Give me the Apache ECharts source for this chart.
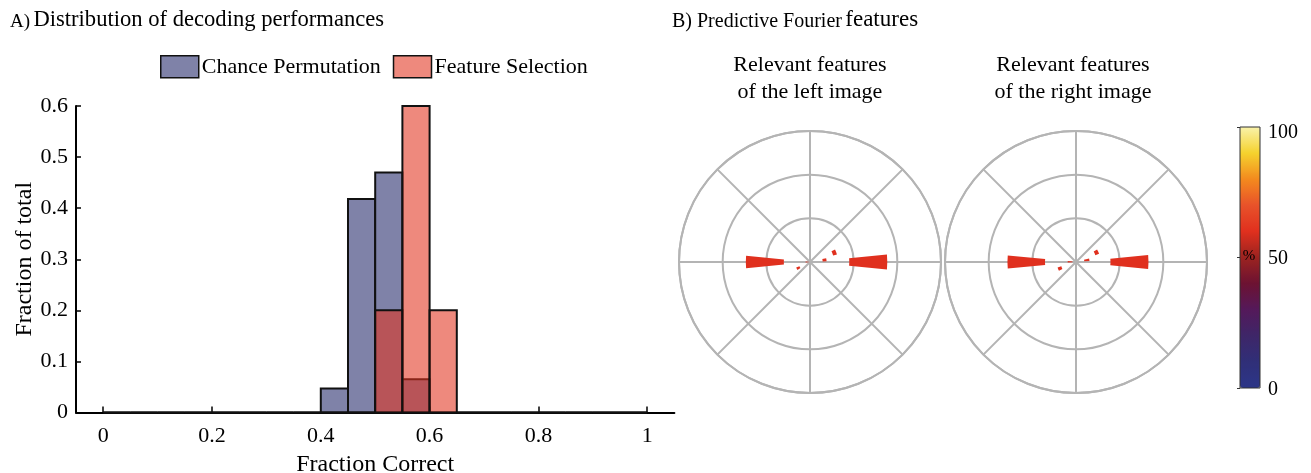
<!DOCTYPE html>
<html>
<head>
<meta charset="utf-8">
<script src="https://cdn.jsdelivr.net/npm/echarts@6/dist/echarts.min.js"></script>
<style>
html,body{margin:0;padding:0;background:#fff;}
#chart{width:1311px;height:473px;}
</style>
</head>
<body>
<div id="chart"></div>
<script>
// ---------- Data ----------
const binLeft  = [0, 0.05, 0.1, 0.15, 0.2, 0.25, 0.3, 0.35, 0.4, 0.45, 0.5, 0.55, 0.6, 0.65, 0.7, 0.75, 0.8, 0.85, 0.9, 0.95];
const binRight = [0.05, 0.1, 0.15, 0.2, 0.25, 0.3, 0.35, 0.4, 0.45, 0.5, 0.55, 0.6, 0.65, 0.7, 0.75, 0.8, 0.85, 0.9, 0.95, 1];
const chancePermutation = [0, 0, 0, 0, 0, 0, 0, 0, 0.047, 0.418, 0.47, 0.065, 0, 0, 0, 0, 0, 0, 0, 0];
const featureSelection  = [0, 0, 0, 0, 0, 0, 0, 0, 0, 0, 0.2, 0.6, 0.2, 0, 0, 0, 0, 0, 0, 0];
const xTickValues = [0, 0.2, 0.4, 0.6, 0.8, 1];

// Polar features: angle (deg), inner radius, outer radius, percent
const leftAngles = [0, 180, 180, 8, 21, 207];
const leftInner  = [0.90, 0.60, 0.00, 0.29, 0.55, 0.26];
const leftOuter  = [1.77, 1.47, 0.10, 0.38, 0.64, 0.34];
const leftPct    = [60, 60, 60, 60, 60, 60];

const rightAngles = [0, 180, 178, 10, 25, 202];
const rightInner  = [0.79, 0.71, 0.08, 0.19, 0.47, 0.35];
const rightOuter  = [1.66, 1.57, 0.19, 0.31, 0.56, 0.44];
const rightPct    = [60, 60, 60, 60, 60, 60];

const colorbarTicks = [0, 50, 100];

// ---------- Build ----------
const FONT = '"Liberation Serif", "DejaVu Serif", serif';
const histChance = binLeft.map((l, i) => [l, binRight[i], chancePermutation[i]]);
const histFeature = binLeft.map((l, i) => [l, binRight[i], featureSelection[i]]);
const polarLeft = leftAngles.map((a, i) => [a, leftInner[i], leftOuter[i], leftPct[i]]);
const polarRight = rightAngles.map((a, i) => [a, rightInner[i], rightOuter[i], rightPct[i]]);

const WEDGE_HALF = 5.5;
const GRID_GREY = '#b4b4b4';

function renderHist(params, api) {
  const p0 = api.coord([api.value(0), 0]);
  const p1 = api.coord([api.value(1), api.value(2)]);
  return {
    type: 'rect',
    shape: { x: p0[0], y: p1[1], width: p1[0] - p0[0], height: p0[1] - p1[1] },
    style: { fill: api.visual('color'), stroke: '#111', lineWidth: 2 }
  };
}

function renderWedge(params, api) {
  const a = api.value(0);
  const p0 = api.coord([api.value(1), a - WEDGE_HALF]);
  const p1 = api.coord([api.value(2), a + WEDGE_HALF]);
  const cs = params.coordSys;
  const s0 = -p0[3], s1 = -p1[3];
  return {
    type: 'sector',
    shape: { cx: cs.cx, cy: cs.cy, r0: p0[2], r: p1[2],
             startAngle: Math.min(s0, s1), endAngle: Math.max(s0, s1), clockwise: true },
    style: { fill: api.visual('color') }
  };
}

function polarAngle(idx) {
  return {
    polarIndex: idx, type: 'value', min: 0, max: 360, interval: 45,
    startAngle: 0, clockwise: false,
    axisLine: { show: true, lineStyle: { color: GRID_GREY, width: 2 } },
    axisTick: { show: false }, axisLabel: { show: false },
    splitLine: { show: true, lineStyle: { color: GRID_GREY, width: 2 } }
  };
}
function polarRadius(idx) {
  return {
    polarIndex: idx, type: 'value', min: 0, max: 3, interval: 1,
    axisLine: { show: false }, axisTick: { show: false }, axisLabel: { show: false },
    splitLine: { show: true, lineStyle: { color: GRID_GREY, width: 2 } }
  };
}

const cmap = ['#2c3688', '#302f78', '#3e2668', '#54195a', '#6c1232', '#9c2320',
              '#e0301e', '#e8522a', '#f38a1e', '#f5d22e', '#f9f2aa'];

const option = {
  backgroundColor: '#fff',
  animation: false,
  textStyle: { fontFamily: FONT },
  graphic: [
    { type: 'text', x: 10, y: 20, style: {
        text: '{a|A)} {b|Distribution of decoding performances}',
        verticalAlign: 'middle', fill: '#000',
        rich: { a: { fontSize: 19, fontFamily: FONT, verticalAlign: 'bottom' },
                b: { fontSize: 22.6, fontFamily: FONT, verticalAlign: 'bottom' } } } },
    { type: 'text', x: 672, y: 20, style: {
        text: '{a|B) Predictive Fourier} {b|features}',
        verticalAlign: 'middle', fill: '#000',
        rich: { a: { fontSize: 20, fontFamily: FONT, verticalAlign: 'bottom' },
                b: { fontSize: 23, fontFamily: FONT, verticalAlign: 'bottom' } } } },
    { type: 'text', x: 810, y: 52, style: {
        text: 'Relevant features\nof the left image', align: 'center', verticalAlign: 'top',
        fontSize: 22, fontFamily: FONT, lineHeight: 27, fill: '#000' } },
    { type: 'text', x: 1073, y: 52, style: {
        text: 'Relevant features\nof the right image', align: 'center', verticalAlign: 'top',
        fontSize: 22, fontFamily: FONT, lineHeight: 27, fill: '#000' } },
    { type: 'text', x: 1249, y: 256, z: 20, style: {
        text: '%', align: 'center', verticalAlign: 'middle',
        fontSize: 15, fontFamily: FONT, fill: '#000' } }
  ],
  legend: {
    data: ['Chance Permutation', 'Feature Selection'],
    left: 160, top: 55, padding: 0, itemGap: 12,
    icon: 'rect', itemWidth: 38, itemHeight: 22,
    itemStyle: { borderColor: '#111', borderWidth: 1.5 },
    textStyle: { fontSize: 22, fontFamily: FONT, color: '#000', padding: [0, 0, 0, -2] },
    selectedMode: false
  },
  grid: [
    { left: 76, top: 106, width: 598.4, height: 306.5, outerBoundsMode: 'none', containLabel: false },
    { left: 1240, top: 127, width: 20, height: 261, show: true, z: 10, outerBoundsMode: 'none', containLabel: false,
      borderColor: '#333', borderWidth: 1, backgroundColor: 'transparent' }
  ],
  xAxis: [
    { gridIndex: 0, type: 'value', min: -0.05, max: 1.05,
      name: 'Fraction Correct', nameLocation: 'middle', nameGap: 37,
      nameTextStyle: { fontSize: 24, fontFamily: FONT, color: '#000' },
      axisLine: { show: true, onZero: false, lineStyle: { color: '#000', width: 2 } },
      axisTick: { show: true, inside: true, length: 6, customValues: xTickValues, lineStyle: { color: '#000', width: 1.5 } },
      axisLabel: { customValues: xTickValues, fontSize: 22, fontFamily: FONT, color: '#000', margin: 13 },
      splitLine: { show: false } },
    { gridIndex: 1, type: 'value', show: false }
  ],
  yAxis: [
    { gridIndex: 0, type: 'value', min: 0, max: 0.6, interval: 0.1,
      name: 'Fraction of total', nameLocation: 'middle', nameGap: 39,
      nameTextStyle: { fontSize: 24, fontFamily: FONT, color: '#000' },
      axisLine: { show: true, onZero: false, lineStyle: { color: '#000', width: 2 } },
      axisTick: { show: true, inside: true, length: 5, lineStyle: { color: '#000', width: 1.5 } },
      axisLabel: { fontSize: 22, fontFamily: FONT, color: '#000', margin: 8 },
      splitLine: { show: false } },
    { gridIndex: 1, type: 'value', min: 0, max: 100, interval: 50, position: 'right',
      axisLine: { show: false },
      axisTick: { show: true, inside: true, length: 3, lineStyle: { color: '#333' } },
      axisLabel: { fontSize: 20, fontFamily: FONT, color: '#000', margin: 8,
                   customValues: colorbarTicks,
                   formatter: function (v) { return v === 100 ? '{t|' + v + '}' : '{n|' + v + '}'; },
                   rich: { t: { fontSize: 20, fontFamily: FONT, padding: [12, 0, 0, 0] },
                           n: { fontSize: 20, fontFamily: FONT, padding: [3, 0, 0, 0] } } },
      splitLine: { show: false } }
  ],
  polar: [
    { center: [810, 262], radius: 131 },
    { center: [1076, 262], radius: 131 }
  ],
  angleAxis: [polarAngle(0), polarAngle(1)],
  radiusAxis: [polarRadius(0), polarRadius(1)],
  visualMap: {
    type: 'continuous', min: 0, max: 100, dimension: 3, seriesIndex: [2, 3],
    inRange: { color: cmap }, orient: 'vertical', left: 1240, top: 127,
    itemWidth: 20, itemHeight: 261, padding: 0, calculable: false,
    text: null, hoverLink: false, z: 5
  },
  series: [
    { name: 'Chance Permutation', type: 'custom', xAxisIndex: 0, yAxisIndex: 0,
      renderItem: renderHist, data: histChance,
      itemStyle: { color: '#7f82a8', borderColor: '#111', borderWidth: 1.5 },
      encode: { x: [0, 1], y: 2 } },
    { name: 'Feature Selection', type: 'custom', xAxisIndex: 0, yAxisIndex: 0,
      renderItem: renderHist, data: histFeature,
      itemStyle: { color: 'rgba(225,50,30,0.575)', borderColor: '#111', borderWidth: 1.5 },
      encode: { x: [0, 1], y: 2 } },
    { name: 'left', type: 'custom', coordinateSystem: 'polar', polarIndex: 0,
      renderItem: renderWedge, data: polarLeft, z: 3 },
    { name: 'right', type: 'custom', coordinateSystem: 'polar', polarIndex: 1,
      renderItem: renderWedge, data: polarRight, z: 3 }
  ]
};

const chart = echarts.init(document.getElementById('chart'), null, { renderer: 'canvas' });
chart.setOption(option);
</script>
</body>
</html>
